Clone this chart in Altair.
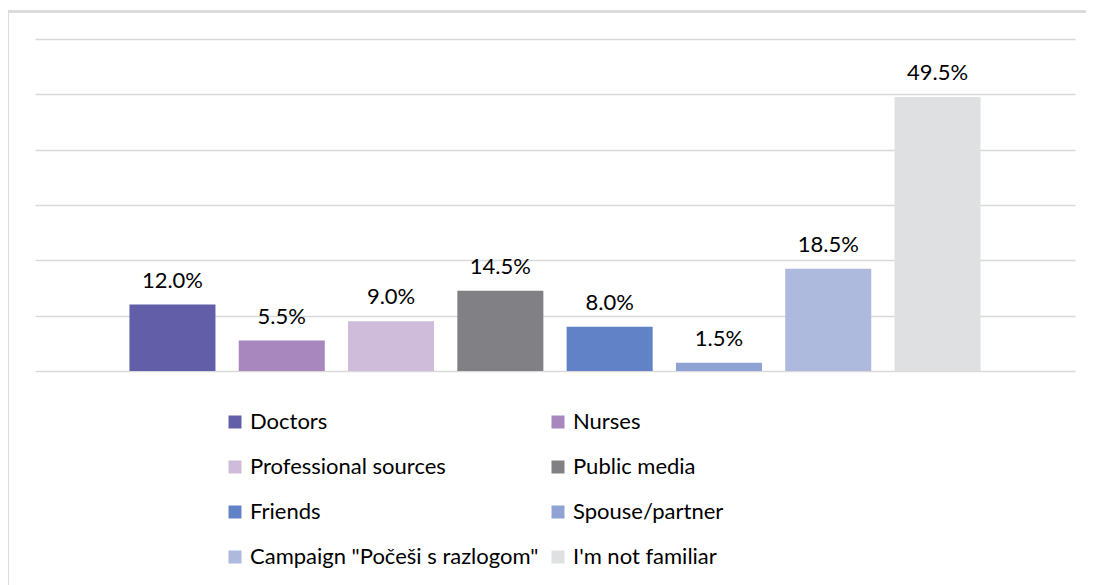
import altair as alt
import pandas as pd

categories = ["Doctors", "Nurses", "Professional sources", "Public media",
              "Friends", "Spouse/partner", 'Campaign "Počeši s razlogom"', "I'm not familiar"]
values = [12.0, 5.5, 9.0, 14.5, 8.0, 1.5, 18.5, 49.5]
colors = ["#635EA8", "#A886BE", "#CFBCDA", "#818185",
          "#6282C8", "#8EA2D3", "#ADB9DD", "#DFE0E2"]
y_ticks = [0, 10, 20, 30, 40, 50, 60]

df = pd.DataFrame({"cat": categories, "val": values,
                   "label": [f"{v:.1f}%" for v in values]})

# legend fills column by column; reorder so it reads row by row
legend_order = [0, 2, 4, 6, 1, 3, 5, 7]
legend_domain = [categories[i] for i in legend_order]
legend_range = [colors[i] for i in legend_order]

FONT = "Lato"
W, H = 1040, 332

x = alt.X("cat:N", sort=categories,
          scale=alt.Scale(domain=categories, paddingInner=0.213, paddingOuter=0.864),
          axis=None)
y = alt.Y("val:Q", scale=alt.Scale(domain=[0, 60], nice=False),
          axis=alt.Axis(values=y_ticks, labels=False, ticks=False, domain=False,
                        title=None, grid=True, gridColor="#D9D9D9", gridWidth=1.5))

bars = alt.Chart(df).mark_bar().encode(
    x=x, y=y,
    color=alt.Color("cat:N",
                    scale=alt.Scale(domain=legend_domain, range=legend_range),
                    legend=alt.Legend(title=None, orient="none", legendX=189, legendY=372,
                                      columns=2, symbolType="square", symbolSize=169,
                                      symbolStrokeWidth=0, labelFont=FONT, labelFontSize=22,
                                      labelColor="#000000", labelOffset=4, rowPadding=23,
                                      columnPadding=8, padding=0, labelLimit=400)),
)

labels = alt.Chart(df).mark_text(font=FONT, fontSize=22, color="#000000",
                                 baseline="alphabetic", dy=-17).encode(
    x=alt.X("cat:N", sort=categories), y="val:Q", text="label:N")

border_left = alt.Chart(df).mark_rule(color="#D9D9D9", strokeWidth=1.5).encode(
    x=alt.value(-27.5), y=alt.value(-27.5), y2=alt.value(560))
border_top = alt.Chart(df).mark_rule(color="#D9D9D9", strokeWidth=1.5).encode(
    x=alt.value(-27.5), x2=alt.value(1070), y=alt.value(-27.5))

chart = alt.layer(bars, labels, border_left, border_top).properties(
    width=W, height=H,
    autosize=alt.AutoSizeParams(type="none"),
    padding={"left": 27, "top": 31, "right": 11, "bottom": 214},
    background="#FFFFFF",
).configure_view(stroke=None)

chart.save("out.html", embed_options={"renderer": "svg", "actions": False})
